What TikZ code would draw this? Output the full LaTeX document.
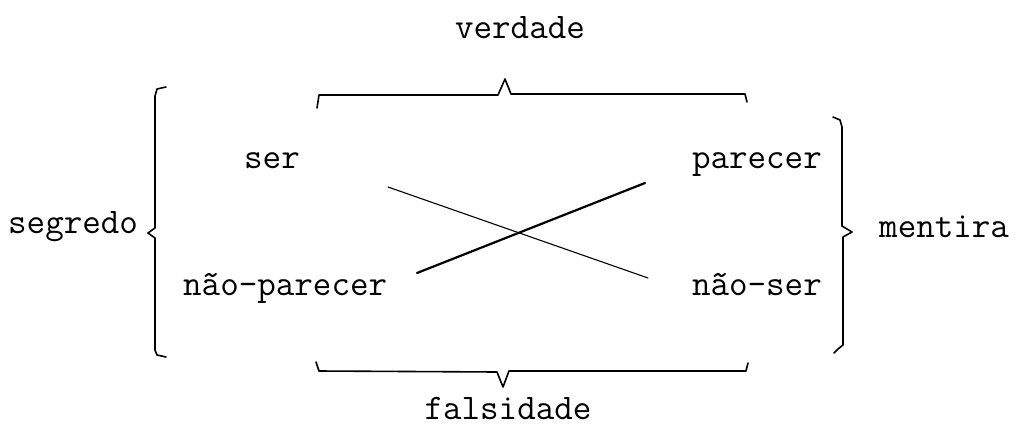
\documentclass[tikz,border=0pt]{standalone}
\usepackage{fontspec}
\begin{document}
\begin{tikzpicture}[x=1pt,y=-1pt,
  word/.style={inner sep=0pt,font=\fontsize{36}{40}\selectfont\ttfamily},
  brace/.style={line width=1.6pt,line cap=round,line join=round},
  thinline/.style={line width=1.1pt,line cap=round},
  thickline/.style={line width=2.2pt,line cap=round}]
\useasboundingbox (0,0) rectangle (1020,429);

% terms of the square
\node[word,anchor=base]      (ser)  at (272,168) {ser};
\node[word,anchor=base east] (par)  at (822,168) {parecer};
\node[word,anchor=base west] (npar) at (183,295) {não-parecer};
\node[word,anchor=base east] (nser) at (822,295) {não-ser};

% names of the braced pairs
\node[word,anchor=base]      (ver) at (520,38)  {verdade};
\node[word,anchor=base]      (fal) at (508,419) {falsidade};
\node[word,anchor=base west] (seg) at (8,233)   {segredo};
\node[word,anchor=base west] (men) at (879,237) {mentira};

% diagonals
\coordinate (d1a) at (388,187);
\coordinate (d1b) at (648,278);
\coordinate (d2a) at (417,273);
\coordinate (d2b) at (645,183);
\draw[thinline]  (d1a) -- (d1b);
\draw[thickline] (d2a) -- (d2b);

% top brace
\draw[brace] (317,108) -- (319,95) -- (498,95) -- (505,79) -- (511,94) -- (745,94) -- (747,102);
% bottom brace
\draw[brace] (316,362) -- (319,371) -- (497,372) -- (503,387) -- (509,371) -- (746,371) -- (748,363);
% left brace
\draw[brace] (166,87) -- (157,89) -- (155,96) -- (155,228) -- (148,233) -- (155,238) -- (155,350) -- (157,355) -- (166,357);
% right brace
\draw[brace] (833,117) -- (840,120) -- (842,127) -- (842,226) -- (852,232) -- (843,237) -- (843,345) -- (838,349) -- (834,353);
\end{tikzpicture}
\end{document}
